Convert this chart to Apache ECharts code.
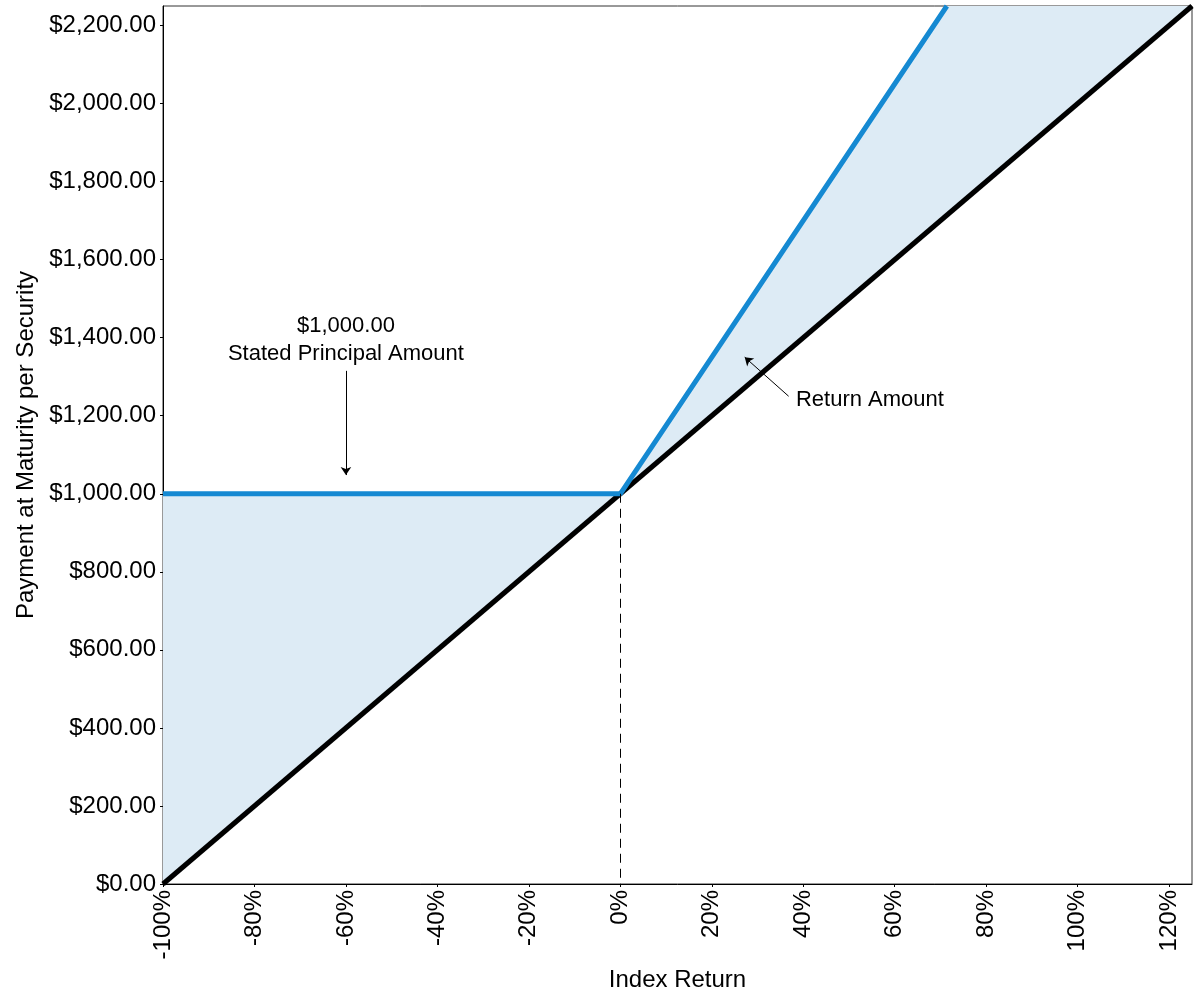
<!DOCTYPE html>
<html>
<head>
<meta charset="utf-8">
<script src="https://cdn.jsdelivr.net/npm/echarts@6/dist/echarts.min.js"></script>
<style>html,body{margin:0;padding:0;background:#fff}#c{width:1200px;height:1000px}</style>
</head>
<body>
<div id="c"></div>
<script>
// Index return breakpoints (%)
var fillX = [-100, 0, 71.4, 125];
// Upper boundary of shaded area (security payment, capped at chart top)
var fillUpper = [1000, 1000, 2250, 2250];
// Lower boundary of shaded area (direct index investment)
var fillLower = [0, 1000, 1714, 2250];
// Security payment line
var securityX = [-100, 0, 71.4];
var securityY = [1000, 1000, 2250];
// Index (1:1) line
var indexX = [-100, 125];
var indexY = [0, 2250];
// Tick labels
var xTicks = [-100, -80, -60, -40, -20, 0, 20, 40, 60, 80, 100, 120];

var FONT = 'Liberation Sans, Arial, sans-serif';
function pairs(xs, ys) { return xs.map(function (x, i) { return [x, ys[i]]; }); }

var chart = echarts.init(document.getElementById('c'));
chart.setOption({
  animation: false,
  grid: { left: 163, right: 8, top: 6, bottom: 116, show: true, borderColor: '#333', borderWidth: 1, backgroundColor: 'transparent' },
  xAxis: {
    type: 'value', min: -100, max: 125, interval: 20,
    name: 'Index Return', nameLocation: 'middle', nameGap: 84,
    nameTextStyle: { fontFamily: FONT, fontSize: 24, color: '#000' },
    axisLine: { show: true, onZero: false, lineStyle: { color: '#000', width: 1 } },
    axisTick: { show: true, length: 3, lineStyle: { color: '#000' } },
    splitLine: { show: false },
    axisLabel: {
      rotate: 90, margin: 6, fontFamily: FONT, fontSize: 24, color: '#000', showMaxLabel: false,
      formatter: function (v) { return xTicks.indexOf(v) >= 0 ? v + '%' : ''; }
    }
  },
  yAxis: {
    type: 'value', min: 0, max: 2250, interval: 200,
    name: 'Payment at Maturity per Security', nameLocation: 'middle', nameGap: 116,
    nameTextStyle: { fontFamily: FONT, fontSize: 24, color: '#000' },
    axisLine: { show: true, onZero: false, lineStyle: { color: '#000', width: 1 } },
    axisTick: { show: true, length: 3, lineStyle: { color: '#000' } },
    splitLine: { show: false },
    axisLabel: {
      margin: 7, fontFamily: FONT, fontSize: 24, color: '#000', showMaxLabel: false,
      formatter: function (v) {
        return '$' + v.toLocaleString('en-US', { minimumFractionDigits: 2, maximumFractionDigits: 2 });
      }
    }
  },
  series: [
    {
      type: 'custom', silent: true, z: 1, clip: true,
      data: [0],
      renderItem: function (params, api) {
        var pts = [];
        for (var i = 0; i < fillX.length; i++) pts.push(api.coord([fillX[i], fillUpper[i]]));
        for (var j = fillX.length - 1; j >= 0; j--) pts.push(api.coord([fillX[j], fillLower[j]]));
        return { type: 'polygon', shape: { points: pts }, style: { fill: '#ddebf5', stroke: null } };
      }
    },
    {
      type: 'line', data: pairs(indexX, indexY), symbol: 'none',
      lineStyle: { color: '#000', width: 5 }, z: 3,
      markLine: {
        silent: true, symbol: ['none', 'none'], label: { show: false },
        lineStyle: { color: '#000', width: 1, type: [9, 6] },
        data: [[{ coord: [0, 1000] }, { coord: [0, 0] }]]
      }
    },
    {
      type: 'line', data: pairs(securityX, securityY), symbol: 'none',
      lineStyle: { color: '#1589d2', width: 5 }, z: 4,
      markLine: {
        silent: true, symbol: ['none', 'arrow'], symbolSize: 8, label: { show: false },
        lineStyle: { color: '#000', width: 1, type: 'solid', opacity: 1 },
        itemStyle: { color: '#000' },
        data: [
          [{ coord: [-60, 1315] }, { coord: [-60, 1048] }],
          [{ coord: [36.8, 1250] }, { coord: [27.2, 1350] }]
        ]
      }
    },
    {
      type: 'scatter', symbolSize: 0, silent: true, z: 5,
      itemStyle: { opacity: 1, color: '#000' },
      data: [
        { value: [-60, 1395], label: { formatter: '$1,000.00\nStated Principal Amount', align: 'center', verticalAlign: 'middle', lineHeight: 28, color: '#000', opacity: 1 } },
        { value: [38.4, 1240], label: { formatter: 'Return Amount', align: 'left', verticalAlign: 'middle', color: '#000', opacity: 1 } }
      ],
      label: { show: true, position: 'inside', fontFamily: FONT, fontSize: 22, color: '#000', opacity: 1 }
    }
  ]
});
</script>
</body>
</html>
